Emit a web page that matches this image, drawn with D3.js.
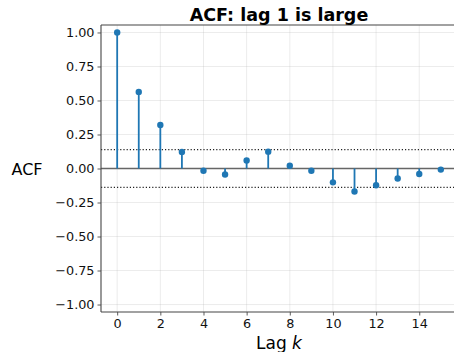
<!DOCTYPE html>
<html><head><meta charset="utf-8">
<script src="https://cdn.jsdelivr.net/npm/d3@7"></script>
<style>body{margin:0;background:#fff}svg{display:block}text{font-family:"DejaVu Sans",sans-serif}</style>
</head><body><svg id="c" width="454" height="352"></svg>
<script>
const lags = [0,1,2,3,4,5,6,7,8,9,10,11,12,13,14,15];
const acf = [1.00,0.563,0.32,0.122,-0.017,-0.044,0.059,0.124,0.02,-0.017,-0.102,-0.169,-0.123,-0.074,-0.04,-0.008];
const confBound = 0.139;
const xTicks = [0,2,4,6,8,10,12,14];
const yTicks = [-1,-0.75,-0.5,-0.25,0,0.25,0.5,0.75,1];
const title = "ACF: lag 1 is large";

const svg = d3.select("#c");
const L=101,R=457,T=25,B=312;
const x = d3.scaleLinear().domain([-0.75,15.75]).range([L,R]);
const y = d3.scaleLinear().domain([-1.055,1.055]).range([B,T]);
const blue="#1f77b4";
const fmt = v => (v<0?"\u2212":"")+Math.abs(v).toFixed(2);

// grid
svg.append("g").selectAll("line").data(yTicks).join("line")
  .attr("x1",L).attr("x2",R).attr("y1",d=>y(d)).attr("y2",d=>y(d))
  .attr("stroke","#b0b0b0").attr("stroke-opacity",0.3).attr("stroke-width",0.8);
svg.append("g").selectAll("line").data(xTicks).join("line")
  .attr("y1",T).attr("y2",B).attr("x1",d=>x(d)).attr("x2",d=>x(d))
  .attr("stroke","#b0b0b0").attr("stroke-opacity",0.3).attr("stroke-width",0.8);

// confidence lines
[confBound,-confBound].forEach(c=>{
  svg.append("line").attr("x1",L).attr("x2",R).attr("y1",y(c)).attr("y2",y(c))
    .attr("stroke","#222").attr("stroke-width",1.2).attr("stroke-dasharray","1.2,2");
});
// zero line
svg.append("line").attr("x1",L).attr("x2",R).attr("y1",y(0)).attr("y2",y(0))
  .attr("stroke","#666").attr("stroke-width",1.3);

// stems
svg.append("g").selectAll("line").data(lags).join("line")
  .attr("x1",d=>x(d)).attr("x2",d=>x(d)).attr("y1",y(0)).attr("y2",(d,i)=>y(acf[i]))
  .attr("stroke",blue).attr("stroke-width",1.8);
svg.append("g").selectAll("circle").data(lags).join("circle")
  .attr("cx",d=>x(d)).attr("cy",(d,i)=>y(acf[i])).attr("r",3.2).attr("fill",blue);

// axes
const ax = svg.append("g").attr("transform",`translate(0,${B})`)
  .call(d3.axisBottom(x).tickValues(xTicks).tickSize(3.5).tickPadding(3.5).tickFormat(d3.format("d")));
const ay = svg.append("g").attr("transform",`translate(${L},0)`)
  .call(d3.axisLeft(y).tickValues(yTicks).tickSize(3.5).tickPadding(3).tickFormat(fmt));
[ax,ay].forEach(g=>{
  g.select(".domain").remove();
  g.selectAll("line").attr("stroke","#333").attr("stroke-width",0.8);
  g.selectAll("text").attr("font-size",12.8).attr("fill","#111");
});
// spines
const sp = svg.append("g").attr("stroke","#444").attr("stroke-width",1.1).attr("fill","none");
sp.append("line").attr("x1",L).attr("x2",L).attr("y1",T).attr("y2",B);
sp.append("line").attr("x1",L).attr("x2",R).attr("y1",B).attr("y2",B);
sp.append("line").attr("x1",L).attr("x2",R).attr("y1",T).attr("y2",T);
sp.append("line").attr("x1",R).attr("x2",R).attr("y1",T).attr("y2",B);

// title and labels
svg.append("text").attr("x",(L+R)/2).attr("y",20.5).attr("text-anchor","middle")
  .attr("font-size",17.5).attr("font-weight","bold").text(title);
svg.append("text").attr("x",27).attr("y",y(0)+6).attr("text-anchor","middle")
  .attr("font-size",16).text("ACF");
const xl = svg.append("text").attr("x",(L+R)/2).attr("y",348.5).attr("text-anchor","middle").attr("font-size",17);
xl.append("tspan").text("Lag ");
xl.append("tspan").attr("font-style","italic").text("k");
</script></body></html>
